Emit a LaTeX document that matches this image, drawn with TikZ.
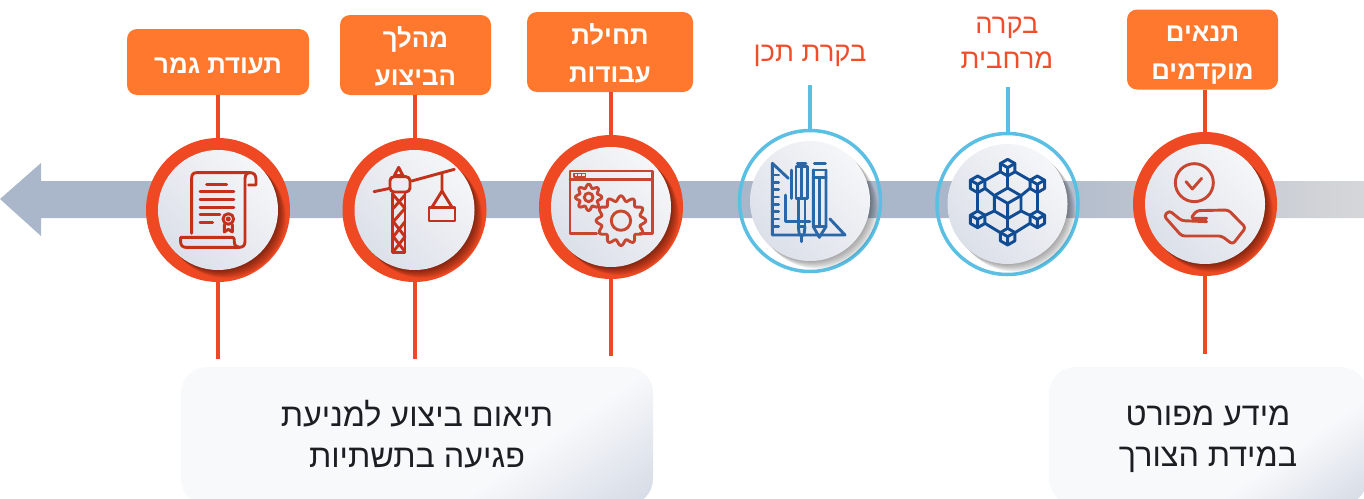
\documentclass[tikz,border=0pt]{standalone}
\usepackage{fontspec}
\TeXXeTstate=1
\newfontfamily\hebfont[Script=Hebrew]{Liberation Sans}
\definecolor{ringor}{HTML}{EE4923}
\definecolor{ringbl}{HTML}{5BBFE3}
\definecolor{boxor}{HTML}{FF782D}
\definecolor{barblue}{HTML}{AAB6C9}
\definecolor{barend}{HTML}{D6D7D9}
\definecolor{discA}{HTML}{F5F6F8}
\definecolor{discB}{HTML}{DCE0E9}
\definecolor{panelA}{HTML}{F8F9FB}
\definecolor{panelB}{HTML}{D3D9E4}
\definecolor{icoOr}{HTML}{C8452F}
\definecolor{icoRed}{HTML}{C4301A}
\definecolor{icoBl}{HTML}{2A67A8}
\definecolor{icoNv}{HTML}{0F4C94}
\definecolor{lbl}{HTML}{F04E2B}
\definecolor{ink}{HTML}{1E1E22}
\pgfdeclarehorizontalshading{barshade}{100bp}{color(0bp)=(barblue); color(61bp)=(barblue); color(75bp)=(barend); color(100bp)=(barend)}
\pgfdeclarehorizontalshading{panelshade}{100bp}{color(0bp)=(panelA); color(64bp)=(panelA); color(85bp)=(panelB); color(100bp)=(panelB)}
\newcommand{\he}[1]{\beginR #1\endR}
\newcommand{\hes}[1]{\rule[-6pt]{0pt}{34pt}\beginR #1\endR}
\tikzset{
  tagbox/.style={fill=boxor,rounded corners=10pt,inner sep=0pt,text=white,align=center,
    font=\hebfont\bfseries\fontsize{25.8}{38}\selectfont},
  toplabel/.style={text=lbl,align=center,inner sep=0pt,font=\hebfont\fontsize{27.4}{32}\selectfont},
  panel/.style={rounded corners=26pt,inner sep=0pt,shading=panelshade,shading angle=-55},
  paneltext/.style={text=ink,align=center,inner sep=0pt,font=\hebfont\fontsize{32.3}{41}\selectfont},
  ringred/.style={circle,fill=ringor,minimum size=144pt,inner sep=0pt},
  ringblue/.style={circle,draw=ringbl,line width=3.5pt,minimum size=141pt,inner sep=0pt},
  innerdisc/.style={circle,minimum size=120pt,inner sep=0pt,left color=discA,right color=discB,shading angle=-45},
  linkred/.style={draw=ringor,line width=4pt},
  linkblue/.style={draw=ringbl,line width=4pt},
  icon/.style={line width=2.9pt,line join=round,line cap=round},
}
% #1 name, #2 x, #3 y, #4 ring style, #5 shadow colour, #6 steps opacity
\newcommand{\stagering}[6]{
  \node[#4] (c#1) at (#2,#3) {};
  \begin{scope}
    \clip (#2,#3) circle (70.5);
    \foreach \k in {1,...,10}{
      \fill[#5,opacity=#6] ({#2+\k*0.8},{#3+\k*0.8}) circle (60);
    }
  \end{scope}
  \node[innerdisc] (d#1) at (#2,#3) {};
}
\begin{document}
\begin{tikzpicture}[x=1pt,y=-1pt]
\useasboundingbox (0,0) rectangle (1364,498);
\clip (0,0) rectangle (1364,498);

% arrow bar
\shade[shading=barshade] (0,199) -- (41,163) -- (41,181) -- (1370,181) -- (1370,218) -- (41,218) -- (41,236) -- cycle;

% stages
\stagering{1}{218}{210}{ringred}{black}{0.05}
\stagering{2}{414.5}{210}{ringred}{black}{0.05}
\stagering{3}{611}{207}{ringred}{black}{0.05}
\stagering{4}{810}{201}{ringblue}{black}{0.04}
\stagering{5}{1007.5}{204}{ringblue}{black}{0.04}
\stagering{6}{1205}{204}{ringred}{black}{0.05}

% top tags
\node[tagbox,minimum width=182pt,minimum height=66pt] (t1) at (218,62) {\hes{תעודת גמר}};
\node[tagbox,minimum width=151pt,minimum height=80pt] (t2) at (415.5,55) {\hes{מהלך}\\\hes{הביצוע}};
\node[tagbox,minimum width=166pt,minimum height=80pt] (t3) at (610,52) {\hes{תחילת}\\\hes{עבודות}};
\node[toplabel] (t4) at (810,50) {\hes{בקרת תכן}};
\node[toplabel] (t5) at (1007,39.5) {\hes{בקרה}\\\hes{מרחבית}};
\node[tagbox,minimum width=151pt,minimum height=80pt] (t6) at (1202.5,49.5) {\hes{תנאים}\\\hes{מוקדמים}};

% free ends
\coordinate (b1) at (218,359);
\coordinate (b2) at (414.5,359);
\coordinate (b3) at (611,356);
\coordinate (b6) at (1205,354);
\coordinate (u4) at (810,85);
\coordinate (u5) at (1007.5,87);

% connectors
\draw[linkred] (t1.south -| c1) -- (c1.north);
\draw[linkred] (t2.south -| c2) -- (c2.north);
\draw[linkred] (t3.south -| c3) -- (c3.north);
\draw[linkred] (t6.south -| c6) -- (c6.north);
\draw[linkred] (c1.south) -- (b1);
\draw[linkred] (c2.south) -- (b2);
\draw[linkred] (c3.south) -- (b3);
\draw[linkred] (c6.south) -- (b6);
\draw[linkblue] (u4) -- (c4.north);
\draw[linkblue] (u5) -- (c5.north);

% bottom panels
\node[panel,minimum width=472pt,minimum height=138pt] (p1) at (417,436) {};
\node[paneltext] at (417,434.5) (p1t) {\he{תיאום ביצוע למניעת}\\\he{פגיעה בתשתיות}};
\node[panel,minimum width=318pt,minimum height=138pt] (p2) at (1208,436) {};
\node[paneltext] at (1208,439) (p2t) {\he{מידע מפורט}\\\he{במידת הצורך}};

% icon: document
\begin{scope}[shift={(0,120)},x=0.3333pt,y=-0.3333pt,icon,draw=icoRed]
  \draw (575,340) -- (575,175) .. controls (575,163) and (580,158) .. (590,158) -- (750,158)
    .. controls (762,158) and (768,165) .. (768,178) -- (768,195) -- (746,195);
  \draw (750,158) .. controls (740,158) and (735,165) .. (735,178) -- (735,365)
    .. controls (735,376) and (729,382) .. (718,382) -- (558,382)
    .. controls (548,382) and (542,376) .. (542,366) -- (542,352) -- (698,352)
    .. controls (702,352) and (703,356) .. (703,366) .. controls (703,376) and (710,382) .. (718,382);
  \draw (620,193) -- (680,193);
  \draw (600,215) -- (702,215);
  \draw (600,238) -- (702,238);
  \draw (600,262) -- (702,262);
  \draw (600,284) -- (660,284);
  \draw (600,307) -- (638,307);
  \draw (685,297) circle (16);
  \draw (685,297) circle (4);
  \draw (673,314) -- (673,336) -- (685,328) -- (697,336) -- (697,314);
\end{scope}

% icon: crane
\begin{scope}[shift={(330,120)},x=0.3333pt,y=-0.3333pt,icon,draw=icoRed]
  \draw (187,220) -- (187,398) -- (225,398) -- (225,220);
  \draw (190,225) -- (225,265) -- (190,305) -- (225,350) -- (190,395);
  \draw (225,225) -- (190,265);
  \draw (190,350) -- (225,305);
  \draw (190,350) -- (225,395);
  \draw[rounded corners=4pt] (180,170) rectangle (240,216);
  \draw (193,167) -- (206,142) -- (219,167) -- cycle;
  \draw (132,215) -- (180,205);
  \draw (245,183) -- (373,148);
  \draw (336,160) -- (336,213) -- (307,260);
  \draw (336,213) -- (365,260);
  \draw (297,262) rectangle (375,303);
\end{scope}

% icon: gears
\begin{scope}[shift={(330,120)},x=0.3333pt,y=-0.3333pt,icon,draw=icoOr]
  \draw (800,341) -- (720,341) -- (720,153) -- (968,153) -- (968,341) -- (930,341);
  \draw (720,178) -- (968,178);
  \draw[line width=1.5pt] (732,160) rectangle (766,171);
  \draw[line width=1pt] (743,160) -- (743,171) (755,160) -- (755,171);
  \draw[shift={(776,232)}] plot[domain=0:360,samples=121] (\x:{34+5.5*cos(8*\x)}) -- cycle;
  \draw (776,232) circle (13);
  \draw[shift={(873,302)}] plot[domain=0:360,samples=181] (\x:{67+7.5*cos(12*\x)}) -- cycle;
  \draw (873,302) circle (29);
\end{scope}

% icon: ruler and pens
\begin{scope}[shift={(720,120)},x=0.3333pt,y=-0.3333pt,icon,draw=icoBl]
  \draw (205,175) -- (157,130) -- (157,345) -- (375,345) -- (330,297);
  \foreach \yy in {165,187,209,231,253,275,297,319}{ \draw (157,\yy) -- (176,\yy); }
  \draw (197,225) -- (197,305) -- (270,305);
  \draw (215,150) -- (215,235);
  \draw (232,130) -- (258,130);
  \draw (228,235) -- (228,140) -- (262,140) -- (262,235) -- cycle;
  \draw (245,140) -- (245,235);
  \draw (235,235) -- (235,320) -- (255,320) -- (255,235);
  \draw (235,320) -- (238,345) -- (252,345) -- (255,320);
  \draw (245,345) -- (245,365);
  \draw (283,130) -- (316,130);
  \draw (280,150) -- (318,150);
  \draw (280,150) -- (280,320) -- (298,352) -- (318,320) -- (318,150);
  \draw (280,172) -- (318,172);
  \draw (298,172) -- (298,320);
  \draw (280,320) -- (318,320);
\end{scope}

% icon: blocks
\begin{scope}[shift={(720,120)},x=0.3333pt,y=-0.3333pt,icon,draw=icoNv,line width=2.9pt]
  \newcommand{\cubeat}[3]{
    \draw (#1,{#2-#3}) -- ({#1+0.87*#3},{#2-0.5*#3}) -- ({#1+0.87*#3},{#2+0.5*#3}) -- (#1,{#2+#3})
      -- ({#1-0.87*#3},{#2+0.5*#3}) -- ({#1-0.87*#3},{#2-0.5*#3}) -- cycle;
    \draw ({#1-0.87*#3},{#2-0.5*#3}) -- (#1,#2) -- ({#1+0.87*#3},{#2-0.5*#3}) (#1,#2) -- (#1,{#2+#3});
  }
  \cubeat{863}{143}{25}
  \cubeat{773}{193}{25}
  \cubeat{952}{193}{25}
  \cubeat{773}{298}{25}
  \cubeat{952}{298}{25}
  \cubeat{863}{350}{25}
  \cubeat{863}{250}{46}
  % ties between blocks
  \draw (885,155) -- (930,181);
  \draw (841,155) -- (795,181);
  \draw (773,218) -- (773,273);
  \draw (952,218) -- (952,273);
  \draw (795,310) -- (841,338);
  \draw (930,310) -- (885,338);
  \draw (863,168) -- (863,204);
  \draw (863,296) -- (863,325);
  \draw (795,205) -- (823,227);
  \draw (930,205) -- (903,227);
  \draw (795,286) -- (823,273);
  \draw (930,286) -- (903,273);
\end{scope}

% icon: hand
\begin{scope}[shift={(1100,0)},x=0.3333pt,y=-0.3333pt,icon,draw=icoOr]
  \draw (283,548) circle (57);
  \draw (258,545) -- (277,567) -- (305,535);
  \draw[rounded corners=3pt] (320,665) -- (245,662) -- (208,632) -- (192,648) -- (245,708) -- (365,708) -- (398,733) -- (437,683) -- (385,630) -- (290,632) -- (272,655) -- (320,655);
\end{scope}
\end{tikzpicture}
\end{document}
